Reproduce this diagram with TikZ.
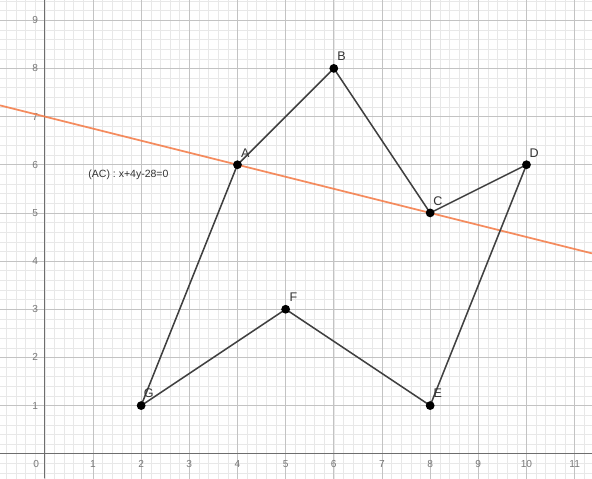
\documentclass[tikz,border=0pt]{standalone}
\usepackage{fontspec}
\setmainfont{Liberation Sans}
\usetikzlibrary{calc}
\definecolor{ggorange}{RGB}{244,128,78}
\definecolor{ggedge}{RGB}{64,64,64}
\definecolor{ggminor}{RGB}{232,232,232}
\definecolor{ggmajor}{RGB}{195,195,195}
\definecolor{ggaxis}{RGB}{110,110,110}
\definecolor{ggtick}{RGB}{120,120,120}
\tikzset{
  vertex/.style={circle,fill=black,inner sep=0pt,minimum size=5.2pt},
  vlabel/.style={inner sep=0pt,font=\fontsize{7.4}{8}\selectfont,text=black!80},
  eqlabel/.style={inner sep=0pt,font=\fontsize{6.2}{7}\selectfont,text=black!80},
  ticklab/.style={inner sep=0pt,font=\fontsize{6}{7}\selectfont,text=ggtick},
  edge/.style={ggedge,line width=0.9pt}
}

\begin{document}
\begin{tikzpicture}
\useasboundingbox (-0.93,-0.51) rectangle (11.36,9.42);
%grid
\begin{scope}
\clip (-0.93,-0.51) rectangle (11.36,9.42);
\draw[ggminor,line width=0.3pt,step=0.2] (-1,-1) grid (12,10);
\draw[ggmajor,line width=0.45pt,step=1] (-1,-1) grid (12,10);
\end{scope}
%axes
\draw[ggaxis,line width=0.6pt] (-0.93,0) -- (11.36,0);
\draw[ggaxis,line width=0.6pt] (0,-0.51) -- (0,9.42);
%tick labels
\node[ticklab] (x0) at (-0.18,-0.21) {0};
\foreach \i in {1,...,11}
  \node[ticklab] (x\i) at (\i,-0.21) {\i};
\foreach \j in {1,...,9}
  \node[ticklab] (y\j) at (-0.2,\j) {\j};

%line (AC)
\coordinate (L1) at (-0.93,7.2325);
\coordinate (L2) at (11.36,4.16);
\draw[ggorange,line width=1.05pt,opacity=0.9] (L1) -- (L2);
\node[eqlabel,anchor=west] (eq) at (0.9,5.79) {(AC) : x+4y-28=0};

%points
\coordinate (A) at (4,6);
\coordinate (B) at (6,8);
\coordinate (C) at (8,5);
\coordinate (D) at (10,6);
\coordinate (E) at (8,1);
\coordinate (F) at (5,3);
\coordinate (G) at (2,1);

%polygon
\draw[edge] (G) -- (A) -- (B) -- (C) -- (D) -- (E) -- (F) -- (G);

%put nodes
\foreach \p in {A,B,C,D,E,F,G} {
  \node[vertex] (v\p) at (\p) {};
  \node[vlabel] (l\p) at ($(\p)+(0.16,0.25)$) {\p};
}
\end{tikzpicture}
\end{document}
